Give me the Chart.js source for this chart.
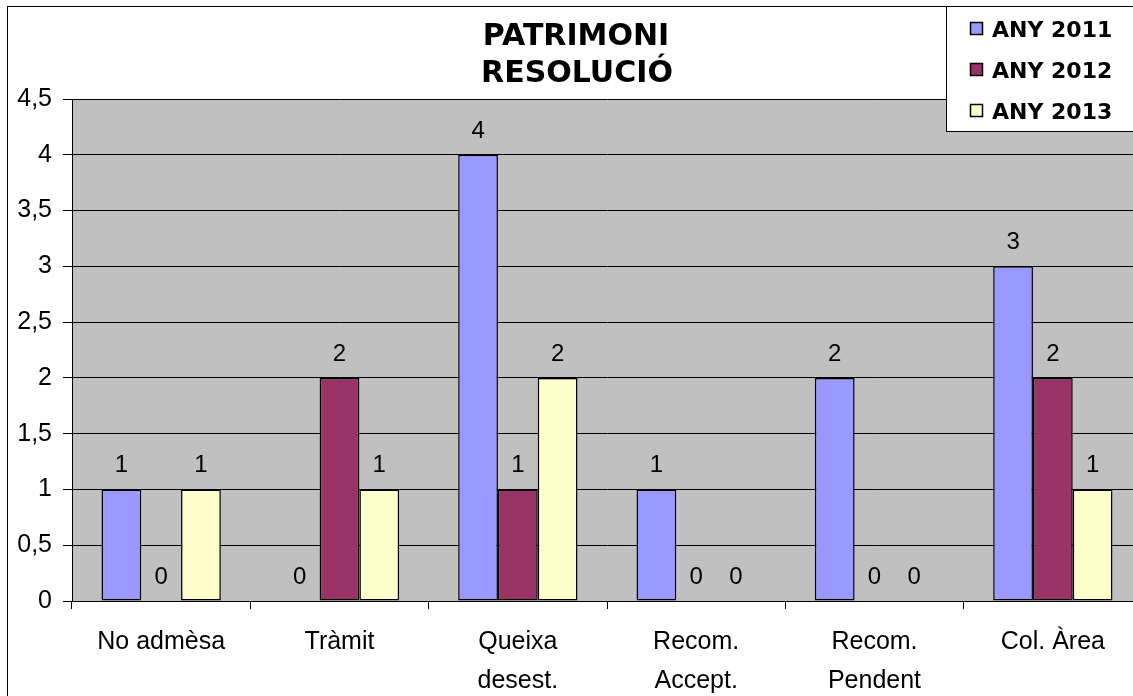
<!DOCTYPE html>
<html>
<head>
<meta charset="utf-8">
<script src="https://cdn.jsdelivr.net/npm/chart.js@4/dist/chart.umd.min.js"></script>
<style>
html,body{margin:0;padding:0;background:#fff;overflow:hidden;}
canvas{display:block;}
</style>
</head>
<body>
<canvas id="c" width="1160" height="720"></canvas>
<script>
const categories = [["No admèsa"], ["Tràmit"], ["Queixa", "desest."], ["Recom.", "Accept."], ["Recom.", "Pendent"], ["Col. Àrea"]];
const seriesNames = ["ANY 2011", "ANY 2012", "ANY 2013"];
const values2011 = [1, 0, 4, 1, 2, 3];
const values2012 = [0, 2, 1, 0, 0, 2];
const values2013 = [1, 1, 2, 0, 0, 1];
const seriesColors = ["#9999FF", "#993366", "#FFFFCC"];
const titleLines = ["PATRIMONI", "RESOLUCIÓ"];
const yMin = 0, yMax = 4.5, yStep = 0.5;

const NORMAL = "'Liberation Sans', Arial, sans-serif";
const BOLD = "'DejaVu Sans', Verdana, sans-serif";

const decor = {
  id: 'decor',
  beforeDraw(chart) {
    const ctx = chart.ctx, a = chart.chartArea;
    ctx.save();
    ctx.fillStyle = '#C0C0C0';
    ctx.fillRect(a.left, a.top, a.right - a.left, a.bottom - a.top);
    ctx.strokeStyle = '#000';
    ctx.lineWidth = 1;
    ctx.strokeRect(7.5, 6.5, 3000, 3000);
    ctx.restore();
  },
  afterDatasetsDraw(chart) {
    const ctx = chart.ctx;
    ctx.save();
    ctx.font = "24px " + NORMAL;
    ctx.fillStyle = '#000';
    ctx.textAlign = 'center';
    ctx.textBaseline = 'alphabetic';
    chart.data.datasets.forEach((ds, i) => {
      chart.getDatasetMeta(i).data.forEach((el, j) => {
        ctx.fillText(String(ds.data[j]), el.x, el.y - 17);
      });
    });
    ctx.restore();
  },
  afterDraw(chart) {
    const ctx = chart.ctx;
    ctx.save();
    // title
    ctx.font = "bold 30px " + BOLD;
    ctx.fillStyle = '#000';
    ctx.textAlign = 'center';
    ctx.textBaseline = 'alphabetic';
    ctx.fillText(titleLines[0], 576, 45);
    ctx.fillText(titleLines[1], 577, 82);
    // legend
    ctx.fillStyle = '#fff';
    ctx.fillRect(946, 7, 400, 125);
    ctx.strokeStyle = '#000';
    ctx.lineWidth = 1;
    ctx.strokeRect(946.5, 6.5, 400, 125);
    ctx.font = "bold 22px " + BOLD;
    ctx.textAlign = 'left';
    chart.data.datasets.forEach((ds, i) => {
      const cy = 29 + i * 41;
      ctx.fillStyle = ds.backgroundColor;
      ctx.fillRect(970.5, cy - 6.5, 12, 12);
      ctx.strokeStyle = '#000';
      ctx.lineWidth = 1.5;
      ctx.strokeRect(970.5, cy - 6.5, 12, 12);
      ctx.fillStyle = '#000';
      ctx.fillText(ds.label, 992, cy + 8);
    });
    ctx.restore();
  }
};

new Chart(document.getElementById('c'), {
  type: 'bar',
  data: {
    labels: categories,
    datasets: [
      { label: seriesNames[0], data: values2011, backgroundColor: seriesColors[0] },
      { label: seriesNames[1], data: values2012, backgroundColor: seriesColors[1] },
      { label: seriesNames[2], data: values2013, backgroundColor: seriesColors[2] }
    ].map(d => Object.assign(d, { borderColor: '#000', borderWidth: 1.5, borderSkipped: false, categoryPercentage: 0.669, barPercentage: 1 }))
  },
  options: {
    responsive: false,
    animation: false,
    devicePixelRatio: 1,
    layout: { padding: { left: 7, right: 18, top: 99, bottom: 0 } },
    plugins: { legend: { display: false }, title: { display: false }, tooltip: { enabled: false } },
    scales: {
      x: {
        afterFit(s) { s.height = 119; },
        grid: { offset: true, drawOnChartArea: false, drawTicks: true, tickLength: 8, color: '#000' },
        border: { display: true, color: '#000', width: 1 },
        ticks: { color: '#000', padding: 14, maxRotation: 0, autoSkip: false, font: { family: NORMAL, size: 25, lineHeight: 1.55 } }
      },
      y: {
        min: yMin, max: yMax,
        afterFit(s) { s.width = 65; },
        grid: { color: '#000', tickLength: 9, lineWidth: 1 },
        border: { display: true, color: '#000', width: 1 },
        ticks: {
          stepSize: yStep, color: '#000', padding: 11,
          font: { family: NORMAL, size: 25 },
          callback: v => String(v).replace('.', ',')
        }
      }
    }
  },
  plugins: [decor]
});
</script>
</body>
</html>
